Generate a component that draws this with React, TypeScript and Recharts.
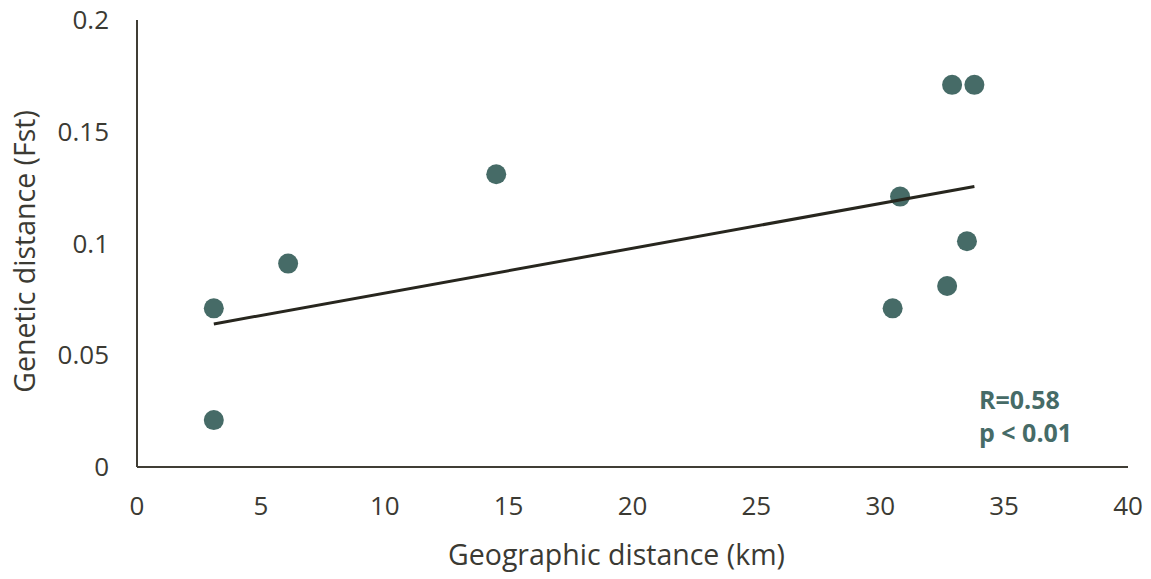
import React from 'react'
import { ScatterChart, Scatter, XAxis, YAxis } from 'recharts'

// geographic distance (km) vs genetic distance (Fst)
const geoKm = [3.1, 3.1, 6.1, 14.5, 30.5, 30.8, 32.7, 33.5, 32.9, 33.8]
const fst = [0.071, 0.021, 0.091, 0.131, 0.071, 0.121, 0.081, 0.101, 0.171, 0.171]

// linear trendline endpoints as drawn in the figure
const trendKm = [3.1, 33.8]
const trendFst = [0.064, 0.1255]

const xTicks = [0, 5, 10, 15, 20, 25, 30, 35, 40]
const yTicks = [0, 0.05, 0.1, 0.15, 0.2]

const points = geoKm.map((x, i) => ({ x, y: fst[i] }))
const trend = trendKm.map((x, i) => ({ x, y: trendFst[i] }))

const DOT = '#466b67'
const INK = '#3b3a33'
const FONT = '"Open Sans", sans-serif'

function Dot(props: { cx?: number; cy?: number }) {
  if (props.cx == null || props.cy == null) return null
  return <circle cx={props.cx} cy={props.cy} r={10} fill={DOT} />
}

function XTitle({ viewBox }: { viewBox?: { x: number; y: number; width: number } }) {
  if (!viewBox) return null
  return (
    <text
      x={viewBox.x + viewBox.width / 2 - 16}
      y={viewBox.y + 98}
      textAnchor="middle"
      fill={INK}
      fontSize={28.5}
      fontFamily={FONT}
    >
      Geographic distance (km)
    </text>
  )
}

function YTitle({ viewBox }: { viewBox?: { x: number; y: number; height: number } }) {
  if (!viewBox) return null
  const cx = viewBox.x + 35
  const cy = viewBox.y + viewBox.height / 2 + 8
  return (
    <text
      x={cx}
      y={cy}
      transform={`rotate(-90, ${cx}, ${cy})`}
      textAnchor="middle"
      fill={INK}
      fontSize={28.5}
      fontFamily={FONT}
    >
      Genetic distance (Fst)
    </text>
  )
}

export default function App() {
  const tick = { fill: INK, fontSize: 26, fontFamily: FONT }
  const axisLine = { stroke: '#403d35', strokeWidth: 2 }
  const note = {
    position: 'absolute' as const,
    left: 979,
    color: DOT,
    fontFamily: FONT,
    fontWeight: 700,
    fontSize: 25,
    lineHeight: '32px',
  }

  return (
    <div style={{ position: 'absolute', left: 0, top: 0, width: 1151, height: 579, background: '#fff' }}>
      <ScatterChart width={1151} height={579} margin={{ top: 20, right: 23, bottom: 0, left: 0 }}>
        <XAxis
          type="number"
          dataKey="x"
          domain={[0, 40]}
          ticks={xTicks}
          interval={0}
          tick={tick}
          tickLine={false}
          tickSize={0}
          tickMargin={30}
          axisLine={axisLine}
          height={112}
          label={<XTitle />}
        />
        <YAxis
          type="number"
          dataKey="y"
          domain={[0, 0.2]}
          ticks={yTicks}
          interval={0}
          tick={tick}
          tickLine={false}
          tickSize={0}
          tickMargin={28}
          axisLine={axisLine}
          width={137}
          label={<YTitle />}
        />
        <Scatter data={points} shape={<Dot />} isAnimationActive={false} />
        <Scatter
          data={trend}
          line={{ stroke: '#27261e', strokeWidth: 3 }}
          shape={() => <g />}
          isAnimationActive={false}
        />
      </ScatterChart>
      <div style={{ ...note, top: 383 }}>R=0.58</div>
      <div style={{ ...note, top: 416 }}>p &lt; 0.01</div>
    </div>
  )
}
